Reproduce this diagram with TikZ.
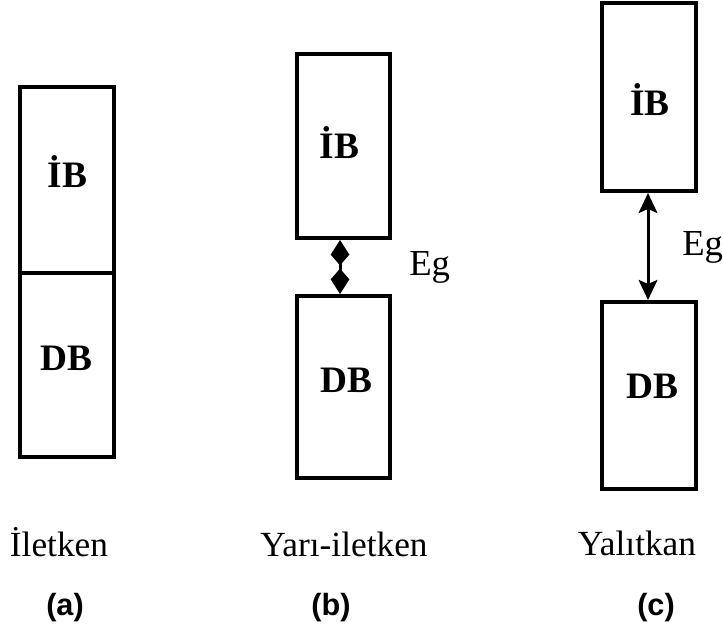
\documentclass[tikz,border=0pt]{standalone}
\usepackage{fontspec}
\setmainfont{Liberation Serif}
\newfontfamily\capfont{Liberation Sans}
\usetikzlibrary{arrows.meta}

\begin{document}
\begin{tikzpicture}[x=0.75pt,y=-0.75pt,
  band/.style={draw, line width=3pt, inner sep=0pt, minimum width=70pt},
  bandtxt/.style={font=\fontsize{28pt}{30pt}\selectfont\bfseries, anchor=base, inner sep=0pt},
  kind/.style={font=\fontsize{26.5pt}{30pt}\selectfont, anchor=base, inner sep=0pt},
  tag/.style={font=\capfont\bfseries\fontsize{23pt}{26pt}\selectfont, inner sep=0pt},
  narrowgap/.style={line width=2.25pt,
    {Kite[length=19pt,width=14pt,inset=8pt]}-{Kite[length=19pt,width=14pt,inset=8pt]}},
  widegap/.style={line width=2.25pt,
    {Stealth[length=15pt,width=14pt,inset=3pt]}-{Stealth[length=15pt,width=14pt,inset=3pt]}},
  eg/.style={font=\fontsize{27.5pt}{30pt}\selectfont, anchor=base west, inner sep=0pt}]

\useasboundingbox (0,0) rectangle (723,629);

% (a) conductor: bands touch
\node[band, minimum height=139.5pt] (ibA) at (67,180) {};
\node[band, minimum height=138pt]   (dbA) at (67,365) {};
\node[bandtxt] (ibAt) at (67.5,187) {İB};
\node[bandtxt] (dbAt) at (66.5,370) {DB};

% (b) semiconductor: small gap
\node[band, minimum height=138pt]   (ibB) at (343.5,146) {};
\node[band, minimum height=136.5pt] (dbB) at (343.5,387) {};
\node[bandtxt] (ibBt) at (339.5,158) {İB};
\node[bandtxt] (dbBt) at (346.5,392) {DB};
\draw[narrowgap] ([xshift=-2.6pt]ibB.south) -- ([xshift=-2.6pt]dbB.north);
\node[eg] (egB) at (409,275) {Eg};

% (c) insulator: wide gap
\node[band, minimum height=141pt]    (ibC) at (649,97) {};
\node[band, minimum height=140.25pt] (dbC) at (649,395.5) {};
\node[bandtxt] (ibCt) at (650,115) {İB};
\node[bandtxt] (dbCt) at (652,398) {DB};
\draw[widegap] ([xshift=-0.75pt]ibC.south) -- ([xshift=-0.75pt]dbC.north);
\node[eg] (egC) at (682,255) {Eg};

% captions
\node[kind] (nameA) at (59,556)  {İletken};
\node[kind] (nameB) at (344,556) {Yarı-iletken};
\node[kind] (nameC) at (637,555) {Yalıtkan};
\node[tag] (tagA) at (65,608)  {(a)};
\node[tag] (tagB) at (331,608) {(b)};
\node[tag] (tagC) at (656,608) {(c)};
\end{tikzpicture}
\end{document}
